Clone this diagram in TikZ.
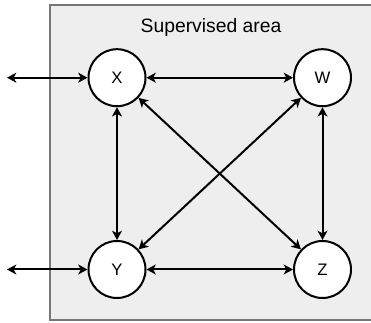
\documentclass[tikz,border=0pt]{standalone}
\usepackage{fontspec}
\setmainfont{Liberation Sans}
\usetikzlibrary{arrows.meta}
\definecolor{areafill}{HTML}{EEEEEE}
\definecolor{areadraw}{HTML}{777777}
\begin{document}
\begin{tikzpicture}[x=0.75pt,y=-0.75pt,
  state/.style={circle,draw=black,fill=white,line width=1.5pt,inner sep=0pt,minimum size=42.75pt,font=\fontsize{12.5pt}{14pt}\selectfont},
  link/.style={line width=1.5pt,{Stealth[length=7pt,width=7.5pt,inset=2pt]}-{Stealth[length=7pt,width=7.5pt,inset=2pt]}}]
\useasboundingbox (0,0) rectangle (371,323);
\path[fill=areafill,draw=areadraw,line width=1pt] (50,5) rectangle (376,320);
\node[anchor=base,font=\fontsize{14.5pt}{17pt}\selectfont] (title) at (211,33) {Supervised area};
\node[state] (X) at (117,77.7) {X};
\node[state] (W) at (322.5,77.7) {W};
\node[state] (Y) at (117,269.5) {Y};
\node[state] (Z) at (322.5,269.5) {Z};
\coordinate (xo) at (7,77.7);
\coordinate (yo) at (7,269.5);
\draw[link] (xo) -- (X);
\draw[link] (yo) -- (Y);
\draw[link] (X) -- (W);
\draw[link] (Y) -- (Z);
\draw[link] (X) -- (Y);
\draw[link] (W) -- (Z);
\draw[link] (X) -- (Z);
\draw[link] (Y) -- (W);
\end{tikzpicture}
\end{document}
